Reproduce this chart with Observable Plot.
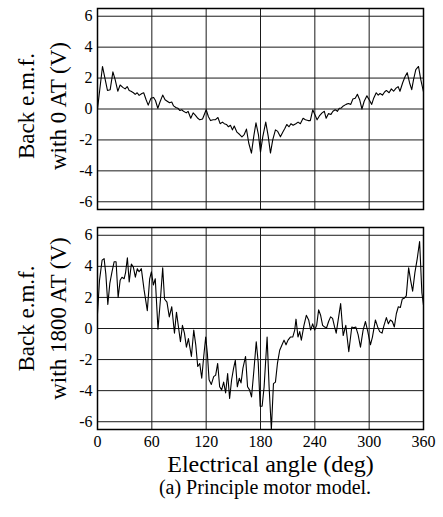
<!DOCTYPE html>
<html><head><meta charset="utf-8">
<script src="https://cdn.jsdelivr.net/npm/d3@7"></script>
<script src="https://cdn.jsdelivr.net/npm/@observablehq/plot@0.6"></script>
<style>
body{margin:0;background:#fff;}
#wrap{position:relative;width:443px;height:517px;font-family:"Liberation Serif","Times New Roman",serif;background:#fff;}
#top{position:absolute;left:0;top:0;}
#bot{position:absolute;left:0;top:218px;}
#cap{position:absolute;left:265px;top:477px;transform:translateX(-50%);white-space:nowrap;font-size:20px;line-height:20px;color:#000;}
</style></head>
<body>
<div id="wrap"><div id="top"></div><div id="bot"></div><div id="cap">(a) Principle motor model.</div></div>
<script>
const xTicks = [0, 60, 120, 180, 240, 300, 360];
const yTicks = [-6, -4, -2, 0, 2, 4, 6];
const yLabelTop = "Back e.m.f.\nwith 0 AT (V)";
const yLabelBot = "Back e.m.f.\nwith 1800 AT (V)";
const xLabel = "Electrical angle (deg)";

// Back e.m.f. with 0 AT
const angle0 = [0,5.5,11,14,17,19.5,22.4,25,28,30.5,32.8,35,37,39.7,41.6,43.8,46,49,51,53.7,56,59,62,64,66.6,69,72,74.6,77,79.5,82,84,86.5,88.7,91,93,95,98,100,103,105.6,108,110.8,113,116,120,122.5,124.8,127.7,130,133,135.4,138,140,142.4,144.6,146.8,149,151,154,157,159.5,162,164.5,167,170,172.6,175,177.7,180,182.5,185.8,188.5,191,193.5,196.5,199,202,205,207,209,211.5,213.6,216,219,221.5,224,227,229.6,232.5,235,237.7,240,242.5,245,248,250.5,252.5,255,257.8,260,262.5,265,267,269,271.5,274.5,277,279.7,282,284.6,287,289.5,292,294.5,297.5,300,302.8,305,307.8,310,312,314.7,317,319,322,324.5,327,329.7,332,334,337,339.7,342,344.6,347,349,351.5,354.5,357,360];
const emf0 = [0,2.75,1.2,1.25,2.4,1.9,1.15,1.55,1.4,1.3,1.45,1.2,1.15,1.05,0.95,1.05,0.88,1.0,1.05,0.6,0.25,0.7,0.75,0.55,0.05,0.45,0.9,0.6,0.5,0.4,0.45,0.2,0.1,0.05,-0.1,-0.05,-0.15,-0.25,-0.15,-0.6,-0.25,-0.4,-0.6,-0.7,-0.65,-0.05,-0.5,-0.75,-0.7,-0.7,-0.55,-0.95,-0.85,-0.95,-1.0,-1.15,-1.05,-1.35,-1.1,-1.5,-1.65,-1.8,-1.65,-1.3,-2.2,-2.85,-1.75,-0.9,-1.65,-2.8,-1.8,-0.85,-1.75,-2.85,-2.0,-1.35,-1.45,-1.8,-1.45,-1.25,-1.0,-1.15,-0.95,-1.05,-0.95,-0.85,-0.95,-0.6,-0.7,-0.75,-0.75,-0.05,-0.35,-0.7,-0.45,-0.25,-0.15,-0.6,-0.3,-0.35,-0.15,-0.05,-0.15,0.05,0.05,0.2,0.3,0.35,0.3,0.65,0.7,0.95,0.6,0.0,0.5,0.85,0.6,0.3,0.7,1.05,0.9,1.0,0.9,1.1,1.2,1.05,1.3,1.15,1.35,1.45,1.15,1.7,2.1,2.35,1.7,1.25,1.9,2.55,2.75,1.9,1.1];

// Back e.m.f. with 1800 AT
const angle1800 = [0,2.2,5.1,7.3,9.2,11.4,13.6,16,18.4,20.5,22.8,25,27,29.4,31,33,35,37.4,39.6,41.8,44,45.9,48.4,51.4,55,57.6,59.5,61.7,63.8,66.8,69.4,72,74,76.7,79.3,82,85,87.2,91.6,93.8,96,98.2,100.4,103.7,106.3,108.5,110.7,112.9,115.1,117.3,119.5,121.3,123.2,125.7,128.3,130.5,132.7,134.9,137.1,139.3,141.5,143.7,145.9,148.1,150.3,152.2,154.4,156.6,158.5,160.6,163.5,165.7,167.9,170.1,172.7,175.3,177.5,179.6,181.8,184,187.3,189.5,192,194.3,196.5,198.7,201.2,203.8,206,208.2,210.4,213,215.6,217.8,219.2,221.4,223.3,225.1,228,230.6,233.2,235.4,237.6,239.8,242,244.2,246.4,248.6,250.8,253,255.2,257.4,259.6,261.8,263.6,268.5,271.3,274.2,277.5,280.8,283,285.2,287.8,290.4,293.3,295.9,298.5,301.4,303.6,306.9,309.4,311.6,314.2,316.4,319,321.2,323.4,325.6,327.8,330,332.2,334.4,336.6,338.8,341,343.6,345.8,348,350.5,353.1,355.7,358.2,360];
const emf1800 = [0.95,3.1,4.4,4.5,3.5,1.55,2.9,3.65,4.3,4.3,2.0,3.1,3.3,3.2,3.6,4.55,3.0,4.15,3.95,3.3,3.85,3.65,3.85,2.5,1.15,3.2,3.65,2.8,3.2,-0.05,1.8,3.9,1.9,1.7,0.75,1.4,-0.3,1.05,-0.85,0.2,-0.3,-1.2,-0.65,-1.8,-0.1,-1.05,-2.45,-2.25,-3.2,-1.8,-0.55,-1.6,-3.3,-3.6,-3.1,-3.0,-2.25,-3.75,-3.95,-3.45,-4.15,-2.9,-4.5,-3.3,-2.55,-2.05,-3.75,-3.2,-3.5,-2.55,-1.8,-3.75,-3.95,-4.4,-2.7,-0.85,-2.2,-5.0,-5.0,-3.75,-0.55,-3.75,-6.5,-3.55,-3.45,-2.25,-1.4,-1.05,-0.75,-1.05,-0.75,-0.55,-0.55,-0.1,0.6,-0.55,-0.2,-0.75,0.2,0.85,0.55,-0.1,0.3,-0.1,0.2,1.2,0.85,0.2,0.1,0.05,0.45,0.75,0.65,0.1,-0.3,1.6,-0.45,0.2,-1.5,0.1,0.05,0.1,-0.4,-1.2,-0.1,0.45,-0.2,-1.05,-0.55,0.55,0.1,-0.2,-0.3,0.2,0.7,0.3,0.55,0.45,0.1,0.95,1.4,1.35,1.9,1.95,2.1,3.9,3.1,2.4,3.6,4.5,5.6,2.3,1.5];

const FONT = "'Liberation Serif', 'Times New Roman', serif";

function panel(xs, ys, label, bottom) {
  const marks = [
    Plot.gridX(xTicks, {stroke: "#1a1a1a", strokeOpacity: 1, strokeWidth: 1}),
    Plot.gridY(yTicks, {stroke: "#1a1a1a", strokeOpacity: 1, strokeWidth: 1}),
    Plot.line(xs, {x: xs, y: ys, stroke: "black", strokeWidth: 1.1, clip: true}),
    Plot.frame({stroke: "black", strokeWidth: 1.5}),
    Plot.axisY(yTicks, {tickSize: 0, tickPadding: 5, tickFormat: d => String(d), fontSize: 16, fontFamily: FONT, label: null}),
    Plot.text([label], {frameAnchor: "left", text: d => d, rotate: -90, textAnchor: "middle", dx: -58, dy: bottom ? -10 : -3, lineAnchor: "middle", fontSize: 23, fontFamily: FONT, lineHeight: 1.4, fill: "black"})
  ];
  if (bottom) {
    marks.push(Plot.axisX(xTicks, {tickSize: 0, tickPadding: 6, tickFormat: d => String(d), fontSize: 16, fontFamily: FONT, label: null}));
    marks.push(Plot.text([xLabel], {frameAnchor: "bottom", text: d => d, textAnchor: "middle", dx: 10, dy: 35, lineAnchor: "middle", fontSize: 24, fontFamily: FONT, fill: "black"}));
  }
  return Plot.plot({
    width: 443,
    height: bottom ? 258 : 218,
    marginLeft: 97,
    marginRight: 20,
    marginTop: bottom ? 9 : 8,
    marginBottom: bottom ? 47 : 9,
    style: {fontFamily: FONT, fontSize: "16px", color: "black", background: "white", overflow: "visible"},
    x: {domain: [0, 360], axis: bottom ? undefined : null},
    y: {domain: [-6.5, 6.5]},
    marks
  });
}

document.getElementById("top").appendChild(panel(angle0, emf0, yLabelTop, false));
document.getElementById("bot").appendChild(panel(angle1800, emf1800, yLabelBot, true));
</script>
</body></html>
